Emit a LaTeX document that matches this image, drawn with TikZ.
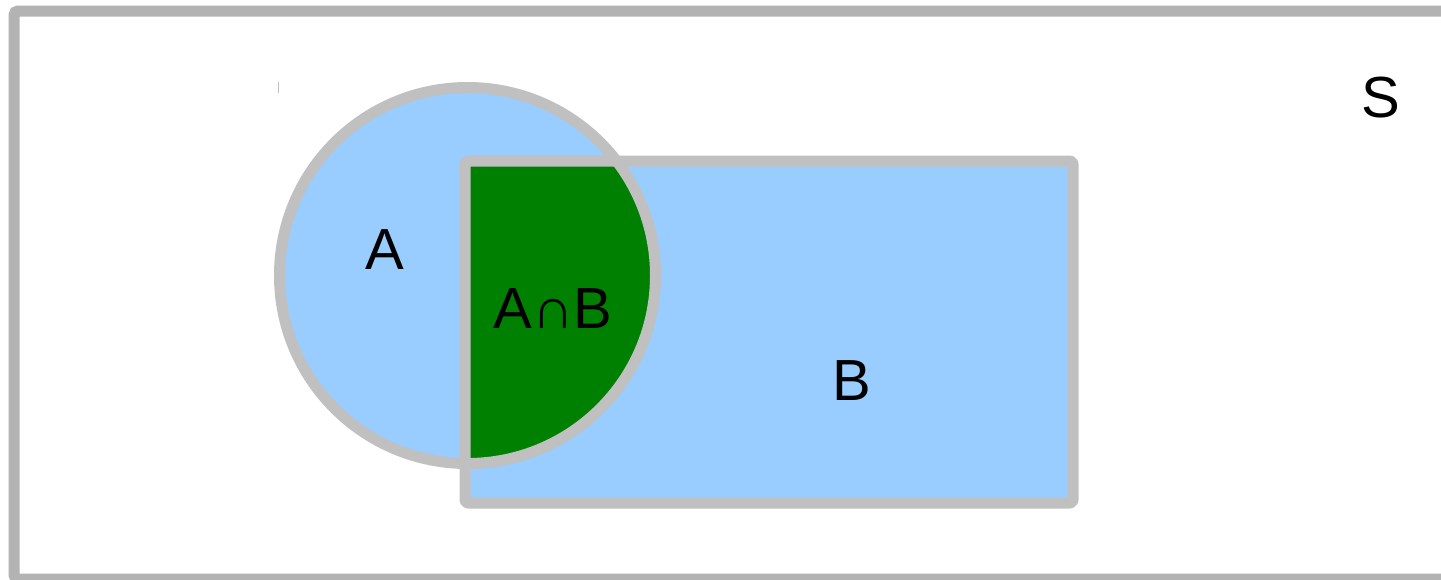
\documentclass[tikz,border=0pt]{standalone}
\usepackage{fontspec}
\setmainfont{Liberation Sans}
\definecolor{setblue}{HTML}{99CCFF}
\definecolor{setgreen}{HTML}{008000}
\definecolor{edgegray}{HTML}{C0C0C0}
\definecolor{framegray}{HTML}{B3B3B3}
\tikzset{
  outline/.style={draw=edgegray,line width=11pt,line join=round},
  lbl/.style={font=\fontsize{58}{60}\selectfont,inner sep=0pt,text=black}
}
\begin{document}
\begin{tikzpicture}[x=1pt,y=-1pt]
\useasboundingbox (0,0) rectangle (1441,579);
\clip (0,0) rectangle (1441,579);
% universe frame
\draw[draw=framegray,line width=11pt,rounded corners=4pt] (14,11) rectangle (1470,579);
% circle A fill
\fill[setblue] (467.5,275.5) circle[radius=188];
% rectangle B fill
\fill[setblue] (465,161) rectangle (1073,503);
% intersection
\begin{scope}
\clip (467.5,275.5) circle[radius=188];
\fill[setgreen] (465,161) rectangle (1073,503);
\end{scope}
% outlines
\draw[outline,rounded corners=3pt] (465,161) rectangle (1073,503);
\draw[outline] (467.5,275.5) circle[radius=188];
% small tick
\draw[draw=edgegray,line width=1pt] (278,82) -- (278,93);
% labels
\node[lbl] (a) at (385,250) {A};
\node[lbl] (ab) at (553,309) {A∩B};
\node[lbl] (b) at (852,381) {B};
\node[lbl] (s) at (1381,98) {S};
\end{tikzpicture}
\end{document}
